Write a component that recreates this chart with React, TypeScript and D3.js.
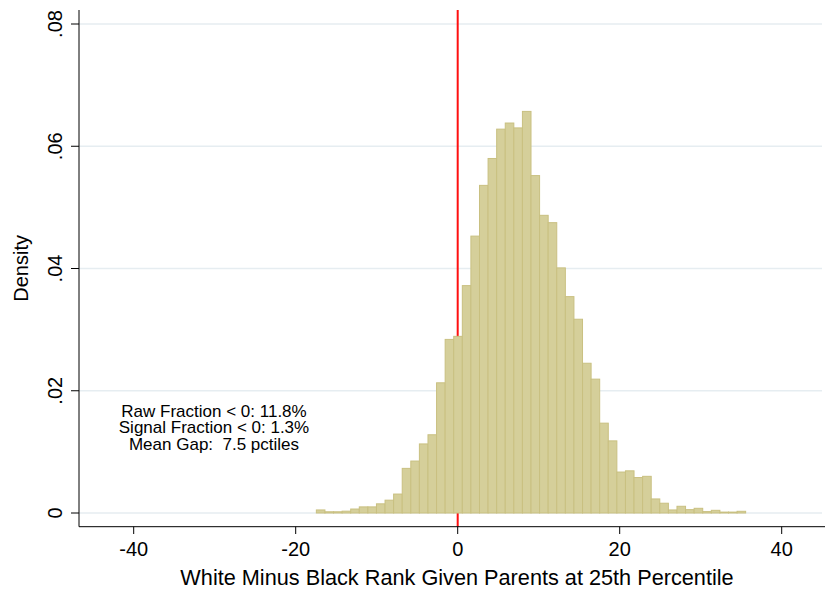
import React from "react";
import * as d3 from "d3";

// Histogram data (density per bin)
const binStart = -17.45;
const binWidth = 1.06;
const densities = [
  0.0005, 0.0002, 0.0002, 0.0003, 0.00065, 0.001, 0.001, 0.0015, 0.0021, 0.0031,
  0.0073, 0.0085, 0.0113, 0.0128, 0.0213, 0.0284, 0.0289, 0.0372, 0.0453, 0.0536,
  0.058, 0.0628, 0.0638, 0.063, 0.0657, 0.0552, 0.0487, 0.0475, 0.0401, 0.0354,
  0.0317, 0.0245, 0.0219, 0.0147, 0.0118, 0.0067, 0.0069, 0.0058, 0.006, 0.0023,
  0.0016, 0.0005, 0.0011, 0.00055, 0.00077, 0.00023, 0.00044, 0.00015, 0.00015, 0.00028,
];
const xTicks = [-40, -20, 0, 20, 40];
const yTicks = [0, 0.02, 0.04, 0.06, 0.08];
const yTickLabels = ["0", ".02", ".04", ".06", ".08"];
const refLine = 0;
const notes = ["Raw Fraction < 0: 11.8%", "Signal Fraction < 0: 1.3%", "Mean Gap:  7.5 pctiles"];
const xTitle = "White Minus Black Rank Given Parents at 25th Percentile";
const yTitle = "Density";

const W = 825;
const H = 592;
const font = "'Liberation Sans', Arial, Helvetica, sans-serif";

export default function App() {
  const x = d3.scaleLinear().domain([-40, 40]).range([133.7, 781.7]);
  const y = d3.scaleLinear().domain([0, 0.08]).range([513, 24]);
  const plotLeft = 79;
  const plotRight = 825;
  const plotTop = 10;
  const axisY = 526.7;

  const bins = densities.map((d, i) => ({
    x0: binStart + i * binWidth,
    x1: binStart + (i + 1) * binWidth,
    d,
  }));

  return (
    <svg
      width={W}
      height={H}
      style={{ position: "absolute", left: 0, top: 0, background: "#fff" }}
      fontFamily={font}
    >
      <rect x={0} y={0} width={W} height={H} fill="#fff" />
      {/* gridlines */}
      {yTicks.map((t) => (
        <line
          key={"g" + t}
          x1={plotLeft}
          x2={822}
          y1={y(t)}
          y2={y(t)}
          stroke="#e6edf1"
          strokeWidth={1.5}
        />
      ))}
      {/* reference line (behind bars) */}
      <line
        x1={x(refLine)}
        x2={x(refLine)}
        y1={plotTop}
        y2={axisY}
        stroke="#ff1010"
        strokeWidth={2}
      />
      {/* bars */}
      {bins.map((b, i) => (
        <rect
          key={i}
          x={x(b.x0)}
          y={y(b.d)}
          width={x(b.x1) - x(b.x0)}
          height={y(0) - y(b.d)}
          fill="#d5cf9a"
          stroke="#c9c081"
          strokeWidth={1}
        />
      ))}
      {/* y axis */}
      <line x1={plotLeft} x2={plotLeft} y1={plotTop} y2={axisY} stroke="#000" strokeWidth={1} />
      {yTicks.map((t, i) => (
        <g key={"yt" + t}>
          <line x1={71} x2={plotLeft} y1={y(t)} y2={y(t)} stroke="#000" strokeWidth={1} />
          <text
            transform={`translate(61.5,${y(t)}) rotate(-90)`}
            textAnchor="middle"
            fontSize={20}
            fill="#000"
          >
            {yTickLabels[i]}
          </text>
        </g>
      ))}
      <text
        transform={`translate(28,${(plotTop + axisY) / 2}) rotate(-90)`}
        textAnchor="middle"
        fontSize={20}
        fill="#000"
      >
        {yTitle}
      </text>
      {/* x axis */}
      <line x1={plotLeft} x2={plotRight} y1={axisY} y2={axisY} stroke="#000" strokeWidth={1} />
      {xTicks.map((t) => (
        <g key={"xt" + t}>
          <line x1={x(t)} x2={x(t)} y1={axisY} y2={534} stroke="#000" strokeWidth={1} />
          <text x={x(t)} y={556} textAnchor="middle" fontSize={20} fill="#000">
            {t}
          </text>
        </g>
      ))}
      <text x={457} y={585} textAnchor="middle" fontSize={21.7} fill="#000">
        {xTitle}
      </text>
      {/* annotation */}
      {notes.map((n, i) => (
        <text
          key={"n" + i}
          x={214}
          y={416.5 + i * 16.8}
          textAnchor="middle"
          fontSize={17}
          fill="#000"
          style={{ whiteSpace: "pre" }}
        >
          {n}
        </text>
      ))}
    </svg>
  );
}
